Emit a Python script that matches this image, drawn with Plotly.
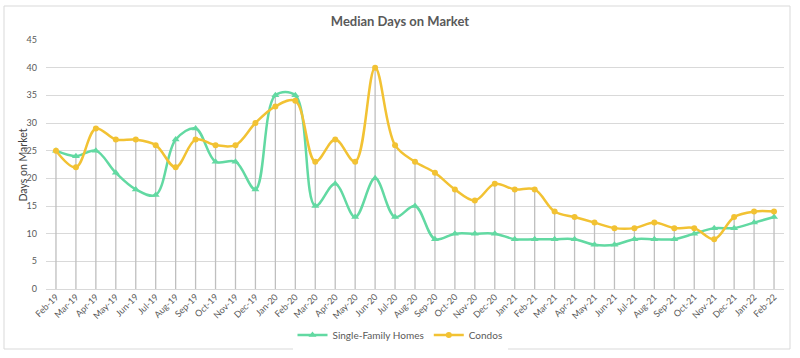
import plotly.graph_objects as go

months = ["Feb-19","Mar-19","Apr-19","May-19","Jun-19","Jul-19","Aug-19","Sep-19","Oct-19","Nov-19","Dec-19",
          "Jan-20","Feb-20","Mar-20","Apr-20","May-20","Jun-20","Jul-20","Aug-20","Sep-20","Oct-20","Nov-20","Dec-20",
          "Jan-21","Feb-21","Mar-21","Apr-21","May-21","Jun-21","Jul-21","Aug-21","Sep-21","Oct-21","Nov-21","Dec-21",
          "Jan-22","Feb-22"]
single_family = [25,24,25,21,18,17,27,29,23,23,18,35,35,15,19,13,20,13,15,9,10,10,10,9,9,9,9,8,8,9,9,9,10,11,11,12,13]
condos = [25,22,29,27,27,26,22,27,26,26,30,33,34,23,27,23,40,26,23,21,18,16,19,18,18,14,13,12,11,11,12,11,11,9,13,14,14]

GREEN = "#62D9A2"
GOLD = "#F2C233"
TXT = "#595959"

# drop lines from axis to the higher point of each month
dx, dy = [], []
for m, a, b in zip(months, single_family, condos):
    dx += [m, m, None]
    dy += [0, max(a, b), None]

fig = go.Figure()
fig.add_trace(go.Scatter(x=dx, y=dy, mode="lines", line=dict(color="#BFBFBF", width=1.3),
                         showlegend=False, hoverinfo="skip"))
fig.add_trace(go.Scatter(x=months, y=single_family, name="Single-Family Homes", mode="lines+markers",
                         line=dict(color=GREEN, width=2.5, shape="spline", smoothing=1.0),
                         marker=dict(symbol="triangle-up", size=7, color=GREEN)))
fig.add_trace(go.Scatter(x=months, y=condos, name="Condos", mode="lines+markers",
                         line=dict(color=GOLD, width=2.5, shape="spline", smoothing=1.0),
                         marker=dict(symbol="circle", size=6, color=GOLD)))

L, R, T, B = 46, 16, 40, 69
W, H = 800, 358
pw, ph = W - L - R, H - T - B

fig.update_layout(
    width=W, height=H,
    margin=dict(l=L, r=R, t=T, b=B, autoexpand=False),
    paper_bgcolor="white", plot_bgcolor="white",
    font=dict(family="Lato, Open Sans, sans-serif", color=TXT, size=9),
    title=dict(text="<b>Median Days on Market</b>", x=0.5, xref="container", y=1 - 21/H, yref="container",
               yanchor="middle", xanchor="center", font=dict(size=13, color=TXT)),
    xaxis=dict(type="category", categoryorder="array", categoryarray=months, tickangle=-45,
               showgrid=False, showline=False, ticks="", tickfont=dict(size=9, color=TXT),
               range=[-0.5, len(months) - 0.5], automargin=False),
    yaxis=dict(range=[0, 45], dtick=5, showgrid=True, gridcolor="#D9D9D9", gridwidth=1,
               zeroline=True, zerolinecolor="#D9D9D9", zerolinewidth=1, showline=False,
               tickfont=dict(size=9, color=TXT), ticks="", ticklabelstandoff=8, automargin=False),
    annotations=[dict(text="Days on Market", textangle=-90, xref="paper", yref="paper",
                      x=(22 - L)/pw, y=0.5, xanchor="center", yanchor="middle", showarrow=False,
                      font=dict(size=10.5, color="#404040"))],
    legend=dict(orientation="h", x=0.5, xanchor="center", xref="container",
                y=1 - 335/H, yref="container", yanchor="middle",
                font=dict(size=10, color=TXT), itemwidth=30),
    showlegend=True,
    shapes=[dict(type="rect", xref="paper", yref="paper",
                 x0=(4 - L)/pw, x1=(790 - L)/pw, y0=(289 - 349)/ph, y1=(289 - 6)/ph,
                 line=dict(color="#D9D9D9", width=1), fillcolor="rgba(0,0,0,0)", layer="below")],
)

fig.write_html("out.html", config={"displayModeBar": False},
               post_script="document.body.style.margin='0';document.body.style.overflow='hidden';")
